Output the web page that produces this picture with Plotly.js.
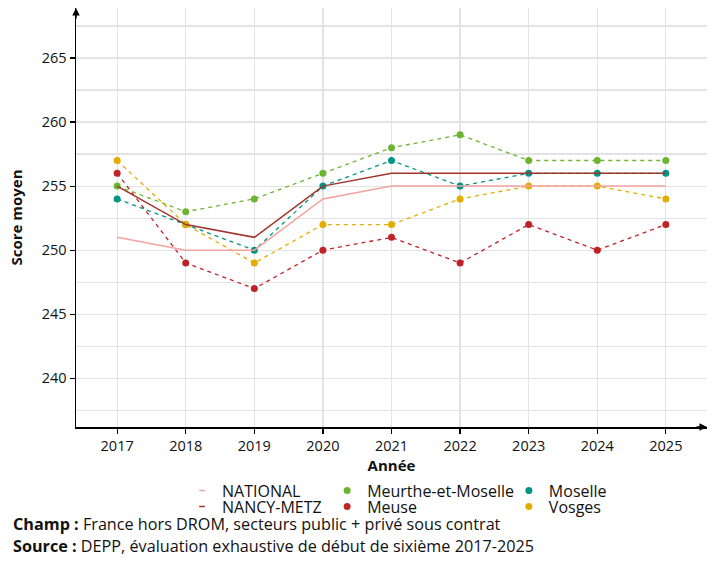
<!DOCTYPE html>
<html><head><meta charset="utf-8">
<script src="https://cdn.plot.ly/plotly-3.0.1.min.js"></script>
<style>body{margin:0;background:#fff}#c{width:720px;height:561px}</style>
</head><body><div id="c"></div>
<script>
const years = [2017, 2018, 2019, 2020, 2021, 2022, 2023, 2024, 2025];
const national = [251, 250, 250, 254, 255, 255, 255, 255, 255];
const nancyMetz = [255, 252, 251, 255, 256, 256, 256, 256, 256];
const meurthe = [255, 253, 254, 256, 258, 259, 257, 257, 257];
const meuse = [256, 249, 247, 250, 251, 249, 252, 250, 252];
const moselle = [254, 252, 250, 255, 257, 255, 256, 256, 256];
const vosges = [257, 252, 249, 252, 252, 254, 255, 255, 254];
const yTicks = [240, 245, 250, 255, 260, 265];
const legendNames = ['NATIONAL', 'NANCY-METZ', 'Meurthe-et-Moselle', 'Meuse', 'Moselle', 'Vosges'];

const FONT = '"Open Sans", sans-serif';
const C = {
  national: '#F4A3A0', nancy: '#A0352C', meurthe: '#6DB531',
  meuse: '#BF2328', moselle: '#009485', vosges: '#E3AC00'
};
const dash = '4px,4px';
function dotted(y, color) {
  return {x: years, y: y, mode: 'lines+markers', showlegend: false, hoverinfo: 'skip',
    line: {color: color, width: 1.3, dash: dash}, marker: {color: color, size: 7}};
}
function solid(y, color) {
  return {x: years, y: y, mode: 'lines', showlegend: false, hoverinfo: 'skip',
    line: {color: color, width: 1.5}};
}
function legLine(name, color, lg) {
  return {x: [null], y: [null], name: name, mode: 'markers', legend: lg,
    marker: {symbol: 'line-ew', size: 4, line: {color: color, width: 1.5}}};
}
function legDot(name, color, lg) {
  return {x: [null], y: [null], name: name, mode: 'markers', legend: lg,
    marker: {color: color, size: 7}};
}
const traces = [
  dotted(meurthe, C.meurthe),
  dotted(moselle, C.moselle),
  dotted(vosges, C.vosges),
  dotted(meuse, C.meuse),
  solid(national, C.national),
  solid(nancyMetz, C.nancy),
  legLine(legendNames[0], C.national, 'legend'),
  legLine(legendNames[1], C.nancy, 'legend2'),
  legDot(legendNames[2], C.meurthe, 'legend3'),
  legDot(legendNames[3], C.meuse, 'legend4'),
  legDot(legendNames[4], C.moselle, 'legend5'),
  legDot(legendNames[5], C.vosges, 'legend6')
];
const row1 = -0.1115, row2 = -0.1497;
function leg(x, y) {
  return {orientation: 'v', yanchor: 'top', xanchor: 'left', x: x, y: y,
    font: {family: FONT, size: 16, color: '#111'}, bgcolor: 'rgba(0,0,0,0)', itemwidth: 30};
}
const layout = {
  width: 720, height: 561,
  margin: {l: 76, r: 13, t: 8, b: 134},
  paper_bgcolor: '#fff', plot_bgcolor: '#fff',
  font: {family: FONT, size: 15, color: '#111'},
  xaxis: {range: [2016.4, 2025.6], tickvals: years, ticktext: years.map(String),
    showgrid: true, gridcolor: '#E3E3E3', gridwidth: 1.2, zeroline: false,
    showline: true, linecolor: '#000', linewidth: 1.5,
    ticks: 'outside', ticklen: 5, tickcolor: '#000', tickwidth: 1.2,
    tickfont: {family: FONT, size: 14.5, color: '#111'},
    title: {text: '<b>Année</b>', standoff: 6, font: {family: FONT, size: 15, color: '#111'}}},
  yaxis: {range: [236.2, 268.9], tickvals: yTicks, ticktext: yTicks.map(String),
    showgrid: true, gridcolor: '#E3E3E3', gridwidth: 1.2, zeroline: false,
    showline: true, linecolor: '#000', linewidth: 1.5,
    ticks: 'outside', ticklen: 5, tickcolor: '#000', tickwidth: 1.2,
    minor: {tick0: 0, dtick: 2.5, showgrid: true, gridcolor: '#E3E3E3', gridwidth: 1.2, ticks: ''},
    tickfont: {family: FONT, size: 14.5, color: '#111'},
    title: {text: '<b>Score moyen</b>', standoff: 15, font: {family: FONT, size: 15, color: '#111'}}},
  legend: leg(0.168, row1),
  legend2: leg(0.168, row2),
  legend3: leg(0.398, row1),
  legend4: leg(0.398, row2),
  legend5: leg(0.686, row1),
  legend6: leg(0.686, row2),
  annotations: [
    {xref: 'paper', yref: 'paper', x: 1, y: 0, ax: -12, ay: 0, text: '', showarrow: true,
      arrowhead: 2, arrowsize: 1, arrowwidth: 1.5, arrowcolor: '#000'},
    {xref: 'paper', yref: 'paper', x: 0, y: 1, ax: 0, ay: 12, text: '', showarrow: true,
      arrowhead: 2, arrowsize: 1, arrowwidth: 1.5, arrowcolor: '#000'},
    {xref: 'paper', yref: 'paper', x: -0.103, y: -0.2315, xanchor: 'left', yanchor: 'middle',
      showarrow: false, font: {family: FONT, size: 16.2, color: '#111'},
      text: '<b>Champ :</b> France hors DROM, secteurs public + privé sous contrat'},
    {xref: 'paper', yref: 'paper', x: -0.103, y: -0.284, xanchor: 'left', yanchor: 'middle',
      showarrow: false, font: {family: FONT, size: 16.2, color: '#111'},
      text: '<b>Source :</b> DEPP, évaluation exhaustive de début de sixième 2017-2025'}
  ]
};
Plotly.newPlot('c', traces, layout, {displayModeBar: false, staticPlot: true});
</script>
</body></html>
